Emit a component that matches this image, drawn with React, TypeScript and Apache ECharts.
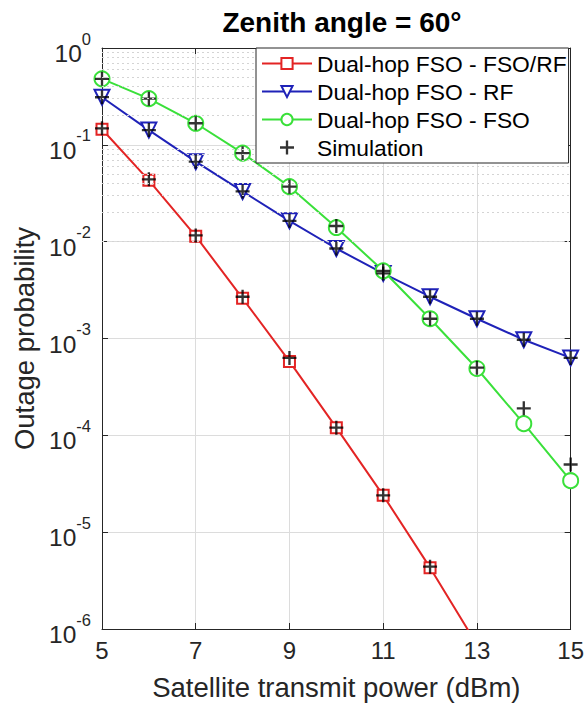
import React, { useEffect, useRef } from "react";
import * as echarts from "echarts";

const xValues = [5, 6, 7, 8, 9, 10, 11, 12, 13, 14, 15];
const fsoRfX = [5, 6, 7, 8, 9, 10, 11, 12, 13];
const fsoRf = [0.145, 0.043, 0.0114, 0.0026, 0.00058, 0.00012, 2.4e-5, 4.3e-6, 6.9e-7];
const rf = [0.31, 0.142, 0.067, 0.033, 0.0164, 0.0085, 0.0047, 0.0027, 0.0016, 0.00097, 0.00063];
const fso = [0.48, 0.3, 0.167, 0.082, 0.037, 0.014, 0.005, 0.0016, 0.00049, 0.000132, 3.4e-5];
const simFsoRfX = [5, 6, 7, 8, 9, 10, 11, 12];
const simFsoRf = [0.148, 0.044, 0.0116, 0.0027, 0.00063, 0.00012, 2.4e-5, 4.4e-6];
const simRf = [0.31, 0.142, 0.067, 0.033, 0.0164, 0.0085, 0.0047, 0.0027, 0.0016, 0.00097, 0.00063];
const simFso = [0.48, 0.3, 0.167, 0.082, 0.037, 0.0145, 0.005, 0.0016, 0.0005, 0.00019, 5.0e-5];
const decades = [-6, -5, -4, -3, -2, -1];
const minorMultipliers = [2, 3, 4, 5, 6, 7, 8, 9];

const names = [
  "Dual-hop FSO - FSO/RF",
  "Dual-hop FSO - RF",
  "Dual-hop FSO - FSO",
  "Simulation",
];

const RED = "#e32424";
const BLUE = "#1f22b8";
const GREEN = "#3ae03a";
const TXT = "#262626";
const FONT = "'Liberation Sans', Arial, Helvetica, sans-serif";
const PLUS = "path://M5,0 H7 V5 H12 V7 H7 V12 H5 V7 H0 V5 H5 Z";

export default function App() {
  const ref = useRef<HTMLDivElement>(null);
  useEffect(() => {
    document.body.style.margin = "0";
    if (!ref.current) return;
    const chart = echarts.init(ref.current, undefined, { renderer: "svg" });
    const minorLines: any[] = [];
    decades.forEach((d) =>
      minorMultipliers.forEach((m) => minorLines.push({ yAxis: m * Math.pow(10, d) }))
    );
    const simData: number[][] = [];
    simFsoRfX.forEach((x, i) => simData.push([x, simFsoRf[i]]));
    xValues.forEach((x, i) => simData.push([x, simRf[i]]));
    xValues.forEach((x, i) => simData.push([x, simFso[i]]));

    const yLabel = (v: number) => {
      const e = Math.round(Math.log10(v));
      return `{b|10}{s|${e}}`;
    };

    chart.setOption({
      animation: false,
      textStyle: { fontFamily: FONT },
      title: {
        text: "Zenith angle = 60\u00b0",
        left: 337,
        textAlign: "center",
        top: 3,
        textStyle: { fontFamily: FONT, fontSize: 28, fontWeight: "bold", color: "#000" },
      },
      grid: { left: 102, right: 15, top: 48, bottom: 76, show: false },
      legend: {
        data: names,
        orient: "vertical",
        left: 256,
        top: 48,
        width: 316,
        itemWidth: 50,
        itemHeight: 14,
        itemGap: 5,
        padding: [4, 2, 4, 5],
        backgroundColor: "#fff",
        borderColor: "#262626",
        borderWidth: 1,
        borderRadius: 0,
        textStyle: { fontFamily: FONT, fontSize: 22.8, color: "#000", lineHeight: 23 },
        z: 20,
      },
      xAxis: [
        {
          type: "value",
          min: 5,
          max: 15,
          interval: 2,
          name: "Satellite transmit power (dBm)",
          nameLocation: "middle",
          nameGap: 44,
          nameTextStyle: { fontFamily: FONT, fontSize: 27.5, color: TXT },
          axisLine: { show: true, lineStyle: { color: TXT, width: 1 } },
          axisTick: { show: true, inside: true, length: 6, lineStyle: { color: TXT } },
          axisLabel: { fontFamily: FONT, fontSize: 24, color: TXT, margin: 9 },
          splitLine: { show: true, lineStyle: { color: "#dcdcdc", width: 1 } },
        },
        {
          type: "value",
          min: 5,
          max: 15,
          interval: 2,
          position: "top",
          axisLine: { show: true, onZero: false, lineStyle: { color: TXT, width: 1 } },
          axisTick: { show: true, inside: true, length: 6, lineStyle: { color: TXT } },
          axisLabel: { show: false },
          splitLine: { show: false },
        },
      ],
      yAxis: [
        {
          type: "log",
          logBase: 10,
          min: 1e-6,
          max: 1,
          splitNumber: 6,
          name: "Outage probability",
          nameLocation: "middle",
          nameGap: 63,
          nameTextStyle: { fontFamily: FONT, fontSize: 27.5, color: TXT },
          axisLine: { show: true, lineStyle: { color: TXT, width: 1 } },
          axisTick: { show: true, inside: true, length: 6, lineStyle: { color: TXT } },
          axisLabel: {
            formatter: yLabel,
            margin: 11,
            rich: {
              b: { fontFamily: FONT, fontSize: 24.5, color: TXT, lineHeight: 36, verticalAlign: "bottom" },
              s: { fontFamily: FONT, fontSize: 16.5, color: TXT, lineHeight: 36, verticalAlign: "top" },
            },
          },
          splitLine: { show: true, lineStyle: { color: "#dcdcdc", width: 1 } },
        },
        {
          type: "log",
          logBase: 10,
          min: 1e-6,
          max: 1,
          splitNumber: 6,
          position: "right",
          axisLine: { show: true, lineStyle: { color: TXT, width: 1 } },
          axisTick: { show: true, inside: true, length: 6, lineStyle: { color: TXT } },
          axisLabel: { show: false },
          splitLine: { show: false },
        },
      ],
      series: [
        {
          name: "minorGrid",
          type: "line",
          data: [],
          silent: true,
          z: 1,
          markLine: {
            silent: true,
            symbol: ["none", "none"],
            label: { show: false },
            lineStyle: { color: "#d4d4d4", type: [2, 3], width: 1 },
            data: minorLines,
            animation: false,
          },
        },
        {
          name: names[0],
          type: "line",
          data: fsoRfX.map((x, i) => [x, fsoRf[i]]),
          symbol: "emptyRect",
          symbolSize: 11,
          showAllSymbol: true,
          clip: true,
          lineStyle: { color: RED, width: 2 },
          itemStyle: { color: RED, borderColor: RED, borderWidth: 1.6 },
          z: 3,
        },
        {
          name: names[1],
          type: "line",
          data: xValues.map((x, i) => [x, rf[i]]),
          symbol: "emptyTriangle",
          symbolRotate: 180,
          symbolSize: 15,
          showAllSymbol: true,
          lineStyle: { color: BLUE, width: 2 },
          itemStyle: { color: BLUE, borderColor: BLUE, borderWidth: 1.8 },
          z: 3,
        },
        {
          name: names[2],
          type: "line",
          data: xValues.map((x, i) => [x, fso[i]]),
          symbol: "emptyCircle",
          symbolSize: 15,
          showAllSymbol: true,
          lineStyle: { color: GREEN, width: 2 },
          itemStyle: { color: GREEN, borderColor: GREEN, borderWidth: 1.8 },
          z: 3,
        },
        {
          name: names[3],
          type: "scatter",
          data: simData,
          symbol: PLUS,
          symbolSize: 14,
          itemStyle: { color: "#000" },
          z: 4,
        },
      ],
    });
    return () => chart.dispose();
  }, []);
  return <div ref={ref} style={{ width: 587, height: 706, background: "#fff" }} />;
}
